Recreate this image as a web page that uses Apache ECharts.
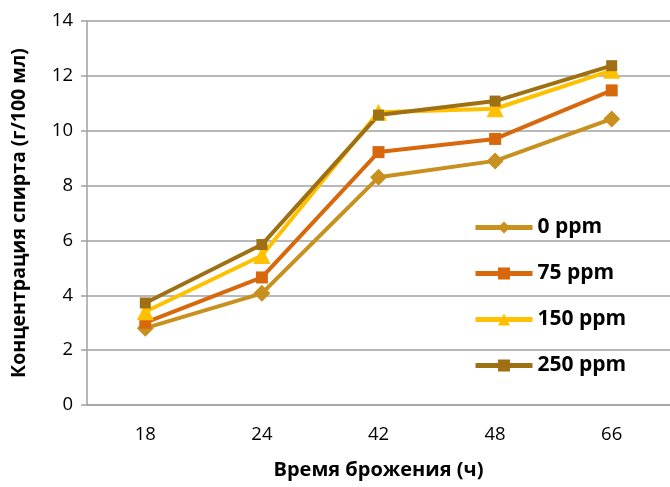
<!DOCTYPE html>
<html><head><meta charset="utf-8">
<script src="https://cdn.jsdelivr.net/npm/echarts@6/dist/echarts.min.js"></script>
<style>html,body{margin:0;padding:0;background:#fff}#c{width:670px;height:487px}</style>
</head><body><div id="c"></div>
<script>
const categories = ['18', '24', '42', '48', '66'];
const s0 = [2.8, 4.07, 8.3, 8.9, 10.43];
const s75 = [3.0, 4.65, 9.22, 9.7, 11.47];
const s150 = [3.4, 5.45, 10.67, 10.8, 12.2];
const s250 = [3.72, 5.85, 10.57, 11.08, 12.37];
const seriesNames = ['0 ppm', '75 ppm', '150 ppm', '250 ppm'];
const FONT = '"Open Sans"';
const chart = echarts.init(document.getElementById('c'), null, {renderer: 'canvas'});
function mk(name, data, color, symbol, size) {
  return {name, type: 'line', data, symbol, symbolSize: size, showSymbol: true,
    lineStyle: {width: 4, color}, itemStyle: {color}, animation: false, z: 2};
}
chart.setOption({
  animation: false,
  grid: {left: 87, right: -3, top: 21, bottom: 82},
  xAxis: {type: 'category', data: categories, boundaryGap: true,
    axisLine: {lineStyle: {color: '#a0a0a0', width: 1.5}}, axisTick: {show: false},
    axisLabel: {color: '#000', fontSize: 18.5, fontFamily: FONT, margin: 20},
    name: 'Время брожения (ч)', nameLocation: 'middle', nameGap: 55,
    nameTextStyle: {color: '#000', fontSize: 20, fontWeight: 'bold', fontFamily: FONT}},
  yAxis: {type: 'value', min: 0, max: 14, interval: 2,
    axisLine: {show: true, lineStyle: {color: '#a0a0a0', width: 1.5}},
    axisTick: {show: true, length: 6, lineStyle: {color: '#a0a0a0', width: 1.5}},
    splitLine: {lineStyle: {color: '#a0a0a0', width: 1.5}},
    axisLabel: {color: '#000', fontSize: 18.5, fontFamily: FONT, margin: 14},
    name: 'Концентрация спирта (г/100 мл)', nameLocation: 'middle', nameGap: 58,
    nameTextStyle: {color: '#000', fontSize: 19.5, fontWeight: 'bold', fontFamily: FONT}},
  legend: {orient: 'vertical', left: 468, top: 212, itemWidth: 57, itemHeight: 15, itemGap: 25,
    data: seriesNames, lineStyle: {width: 5},
    textStyle: {color: '#000', fontSize: 21, fontWeight: 'bold', fontFamily: FONT}},
  series: [
    mk(seriesNames[0], s0, '#C8901E', 'diamond', 17),
    mk(seriesNames[1], s75, '#D8680C', 'rect', 12),
    mk(seriesNames[2], s150, '#FFC000', 'triangle', 17),
    mk(seriesNames[3], s250, '#9E7013', 'rect', 11)
  ]
});
</script></body></html>
